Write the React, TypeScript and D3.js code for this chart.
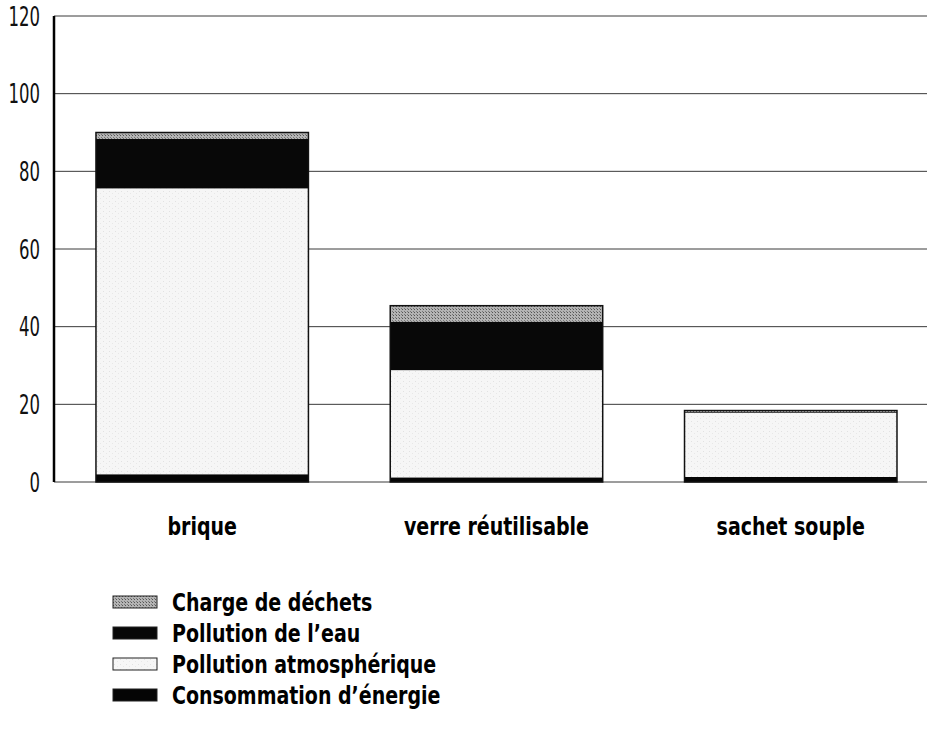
import React from 'react'
import * as d3 from 'd3'

const categories = ['brique', 'verre réutilisable', 'sachet souple']
const energie = [2.0, 1.2, 1.3]
const atmosphere = [73.6, 27.6, 16.5]
const eau = [12.8, 12.5, 0.2]
const dechets = [1.6, 4.1, 0.4]
const yTicks = [0, 20, 40, 60, 80, 100, 120]
const legendLabels = ['Charge de déchets', 'Pollution de l\u2019eau', 'Pollution atmosphérique', 'Consommation d\u2019énergie']

const W = 927
const H = 737
const condensed = '"DejaVu Sans Condensed", "DejaVu Sans", sans-serif'

// series in stack order (bottom to top)
const seriesKeys = ['energie', 'atmosphere', 'eau', 'dechets']
const fills: Record<string, string> = {
  energie: '#050505',
  atmosphere: 'url(#stipple)',
  eau: '#080808',
  dechets: 'url(#halftone)',
}

function App() {
  const rows = categories.map((c, i) => ({
    cat: c,
    energie: energie[i],
    atmosphere: atmosphere[i],
    eau: eau[i],
    dechets: dechets[i],
  }))
  const stack = d3.stack<any>().keys(seriesKeys)(rows)

  const y = d3.scaleLinear().domain([0, 120]).range([482, 16])
  const x = d3.scaleBand().domain(categories).range([54, 927])
    .paddingInner(0.278).paddingOuter(0.1223).align(0.583)

  // legend order top -> bottom
  const legendKeys = ['dechets', 'eau', 'atmosphere', 'energie']

  return (
    <svg width={W} height={H} style={{ position: 'absolute', left: 0, top: 0, background: '#fff' }}>
      <defs>
        <pattern id="halftone" width="3" height="3" patternUnits="userSpaceOnUse">
          <rect width="3" height="3" fill="#b4b4b4" />
          <rect width="1" height="1" fill="#555" />
          <rect x="2" y="2" width="1" height="1" fill="#777" />
        </pattern>
        <pattern id="stipple" width="6" height="5" patternUnits="userSpaceOnUse">
          <rect width="6" height="5" fill="#f6f6f6" />
          <rect x="1" y="1" width="1" height="1" fill="#e2e2e2" />
          <rect x="4" y="3" width="1" height="1" fill="#e8e8e8" />
        </pattern>
      </defs>

      {/* grid */}
      {yTicks.map(t => (
        <line key={t} x1={54} x2={W} y1={y(t)} y2={y(t)} stroke="#3a3a3a" strokeWidth={1} />
      ))}

      {/* bars */}
      {stack.map(s => (
        <g key={s.key}>
          {s.map((d, i) => (
            <rect key={i} x={x(categories[i])} width={x.bandwidth()}
              y={y(d[1])} height={y(d[0]) - y(d[1])} fill={fills[s.key]} />
          ))}
        </g>
      ))}
      {stack[stack.length - 1].map((d, i) => (
        <rect key={'o' + i} x={x(categories[i])} width={x.bandwidth()}
          y={y(d[1])} height={y(0) - y(d[1])} fill="none" stroke="#111" strokeWidth={1.5} />
      ))}

      {/* y axis */}
      <line x1={54} x2={54} y1={y(120)} y2={y(0)} stroke="#000" strokeWidth={2.5} />
      {yTicks.map(t => (
        <g key={t} transform={`translate(40, ${y(t)}) scale(0.68, 1)`}>
          <text x={0} y={0} dy="0.36em" textAnchor="end"
            fontFamily={condensed} fontSize={27} fill="#111">{t}</text>
        </g>
      ))}

      {/* category labels */}
      {categories.map(c => (
        <g key={c} transform={`translate(${(x(c) as number) + x.bandwidth() / 2}, 535) scale(0.88, 1)`}>
          <text x={0} y={0} textAnchor="middle"
            fontFamily={condensed} fontWeight="bold" fontSize={24} fill="#000">{c}</text>
        </g>
      ))}

      {/* legend */}
      {legendKeys.map((k, i) => (
        <g key={k} transform={`translate(113, ${596 + i * 31})`}>
          <rect x={0} y={0} width={44} height={12} fill={fills[k]} stroke="#222" strokeWidth={1} />
          <g transform={`translate(59, 6) scale(0.88, 1)`}>
            <text x={0} y={0} dy="0.36em" fontFamily={condensed} fontWeight="bold" fontSize={24} fill="#000">
              {legendLabels[i]}
            </text>
          </g>
        </g>
      ))}
    </svg>
  )
}

export default App
